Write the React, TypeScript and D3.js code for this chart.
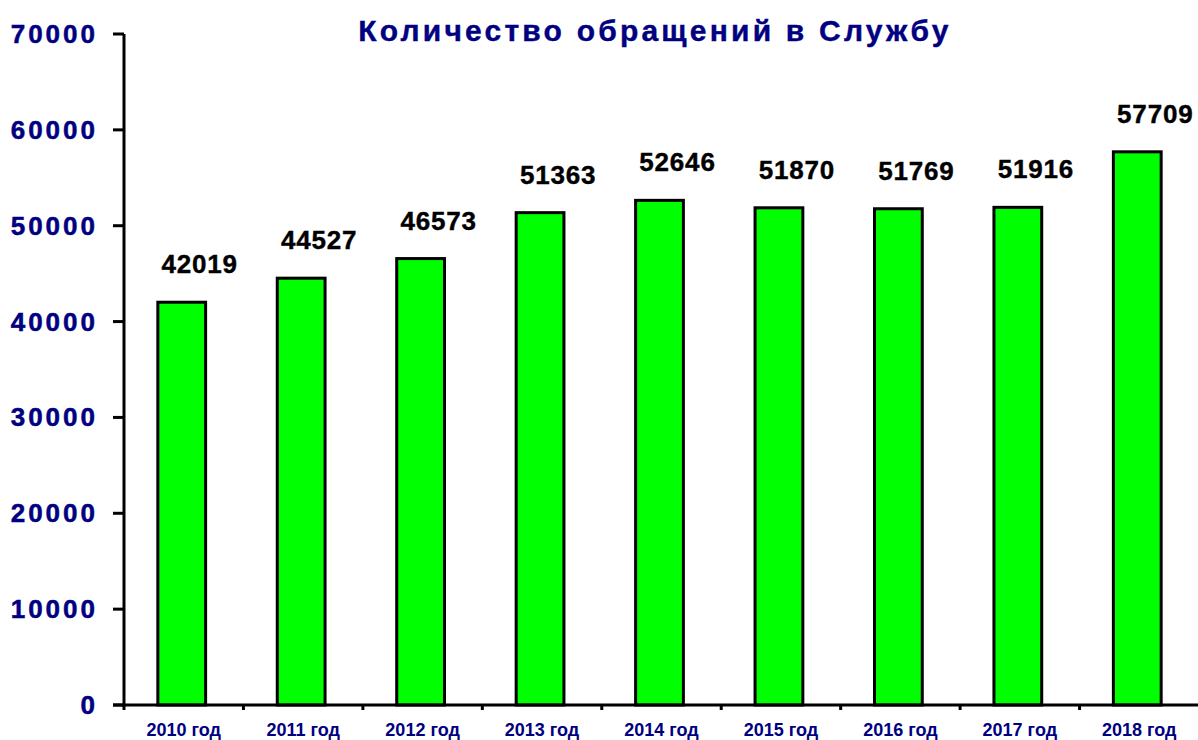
import React from "react";
import * as d3 from "d3";

const categories = ["2010 год", "2011 год", "2012 год", "2013 год", "2014 год", "2015 год", "2016 год", "2017 год", "2018 год"];
const values = [42019, 44527, 46573, 51363, 52646, 51870, 51769, 51916, 57709];
const yTicks = [0, 10000, 20000, 30000, 40000, 50000, 60000, 70000];
const title = "Количество обращений в Службу";

const W = 1198;
const H = 740;
const left = 124;
const right = 1199;
const top = 34;
const bottom = 705;
const NAVY = "#000080";
const FONT = "'Liberation Sans', Arial, sans-serif";

export default function App() {
  const x = d3.scaleBand<string>().domain(categories).range([left, right]).paddingInner(0.6).paddingOuter(0.3);
  const xb = d3.scaleBand<string>().domain(categories).range([left, right]);
  const y = d3.scaleLinear().domain([0, 70000]).range([bottom, top]);
  const bw = x.bandwidth();
  return (
    <svg width={W} height={H} style={{ position: "absolute", left: 0, top: 0, background: "#fff" }} fontFamily={FONT}>
      <text x={655} y={41} textAnchor="middle" fontSize={30} fontWeight="bold" fill={NAVY} letterSpacing={3.2}
        stroke={NAVY} strokeWidth={0.4}>
        {title}
      </text>
      {yTicks.map((t) => (
        <g key={t}>
          <line x1={113} x2={left} y1={y(t)} y2={y(t)} stroke="#000" strokeWidth={3} />
          <text x={98} y={y(t) + 9} textAnchor="end" fontSize={26} fontWeight="bold" fill={NAVY} letterSpacing={3}
            stroke={NAVY} strokeWidth={0.5}>
            {t}
          </text>
        </g>
      ))}
      {categories.map((c, i) => (
        <g key={c}>
          <rect
            x={(xb(c) as number) + xb.bandwidth() / 2 - bw / 2 - 2}
            y={y(values[i])}
            width={bw}
            height={bottom - y(values[i])}
            fill="#00ff00"
            stroke="#000"
            strokeWidth={3}
          />
          <text
            x={(xb(c) as number) + xb.bandwidth() / 2 + 16}
            y={y(values[i]) - 29}
            textAnchor="middle"
            fontSize={26}
            fontWeight="bold"
            fill="#000"
            letterSpacing={0.8}
            stroke="#000"
            strokeWidth={0.4}
          >
            {values[i]}
          </text>
          <text
            x={(xb(c) as number) + xb.bandwidth() / 2}
            y={736}
            textAnchor="middle"
            fontSize={18}
            fontWeight="bold"
            fill={NAVY}
          >
            {c}
          </text>
          <line x1={xb(c) as number} x2={xb(c) as number} y1={bottom} y2={bottom + 5} stroke="#000" strokeWidth={3} />
        </g>
      ))}
      <line x1={left} x2={left} y1={top} y2={bottom + 1.5} stroke="#000" strokeWidth={3} />
      <line x1={113} x2={right} y1={bottom} y2={bottom} stroke="#000" strokeWidth={3} />
    </svg>
  );
}
